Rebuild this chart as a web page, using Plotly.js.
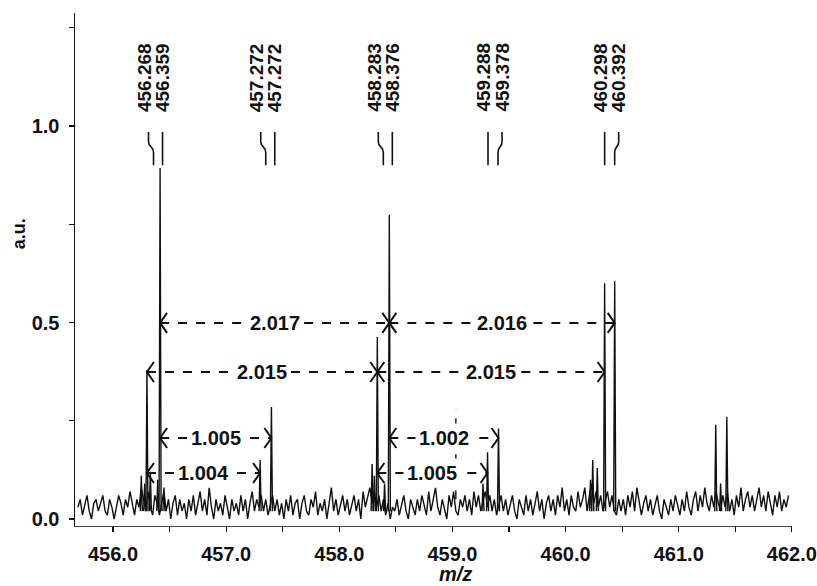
<!DOCTYPE html>
<html><head><meta charset="utf-8">
<script src="https://cdn.plot.ly/plotly-3.0.1.min.js"></script>
<style>html,body{margin:0;padding:0;background:#fff}#chart{width:817px;height:586px}</style>
</head><body><div id="chart"></div>
<script>
// ---- data ----
const noiseStart = 455.69;
const noiseStep = 0.02;
const noise = [
0.03,0.05,0.01,0.04,0.06,0.02,0.00,0.04,0.05,0.02,
0.04,0.06,0.02,0.01,0.05,0.03,0.00,0.03,0.06,0.04,
0.01,0.05,0.03,0.07,0.04,0.01,0.05,0.03,0.08,0.05,
0.02,0.07,0.03,0.01,0.06,0.04,0.01,0.04,0.07,0.02,
0.05,0.00,0.04,0.06,0.01,0.05,0.02,0.04,0.00,0.05,
0.02,0.06,0.01,0.04,0.07,0.02,0.05,0.01,0.08,0.03,
0.00,0.05,0.02,0.04,0.01,0.06,0.03,0.00,0.05,0.02,
0.04,0.01,0.06,0.02,0.05,0.00,0.04,0.07,0.02,0.05,
0.03,0.06,0.02,0.05,0.01,0.04,0.06,0.02,0.05,0.01,
0.04,0.00,0.05,0.02,0.06,0.01,0.04,0.05,0.00,0.04,
0.06,0.02,0.01,0.05,0.03,0.07,0.01,0.04,0.02,0.05,
0.00,0.04,0.08,0.02,0.05,0.01,0.04,0.06,0.02,0.05,
0.01,0.04,0.06,0.02,0.05,0.00,0.07,0.03,0.06,0.08,
0.04,0.07,0.03,0.06,0.02,0.05,0.01,0.04,0.00,0.03,
0.02,0.05,0.01,0.04,0.06,0.02,0.00,0.05,0.03,0.01,
0.05,0.02,0.06,0.03,0.01,0.07,0.02,0.05,0.08,0.03,
0.01,0.05,0.02,0.00,0.06,0.03,0.07,0.02,0.01,0.05,
0.03,0.06,0.02,0.05,0.01,0.07,0.03,0.06,0.02,0.05,
0.07,0.03,0.06,0.02,0.05,0.01,0.04,0.06,0.02,0.05,
0.01,0.04,0.06,0.02,0.00,0.05,0.03,0.01,0.06,0.02,
0.05,0.01,0.04,0.07,0.02,0.05,0.00,0.04,0.06,0.02,
0.05,0.01,0.06,0.03,0.08,0.02,0.05,0.01,0.06,0.03,
0.02,0.07,0.03,0.05,0.08,0.02,0.06,0.09,0.04,0.07,
0.03,0.06,0.02,0.05,0.07,0.03,0.06,0.02,0.01,0.05,
0.02,0.05,0.01,0.06,0.03,0.07,0.02,0.08,0.04,0.01,
0.04,0.06,0.02,0.05,0.01,0.04,0.06,0.02,0.00,0.05,
0.03,0.01,0.05,0.02,0.06,0.03,0.01,0.05,0.02,0.07,
0.03,0.01,0.05,0.07,0.02,0.06,0.03,0.08,0.04,0.02,
0.06,0.03,0.07,0.04,0.02,0.06,0.03,0.07,0.02,0.05,
0.01,0.06,0.03,0.08,0.02,0.05,0.07,0.03,0.06,0.02,
0.05,0.08,0.03,0.06,0.02,0.07,0.04,0.01,0.06,0.03,
0.07,0.02,0.05,0.03,0.06
];
const peakMz =     [456.25,456.28,456.300,456.33,456.395,456.416,456.45,457.30,457.400,458.29,458.31,458.336,458.40,458.442,459.27,459.310,459.407,460.22,460.24,460.28,460.345,460.434,461.327,461.37,461.425];
const peakHeight = [0.11,  0.09,  0.379,  0.12,  0.10,   0.893,  0.08,  0.15,  0.285,  0.14,  0.11,  0.463,  0.09,  0.774,  0.09,  0.170,  0.230,  0.10,  0.15,  0.13,  0.600,  0.605,  0.240,  0.09,  0.260];
const labelPairs = [[456.300,456.416],[457.300,457.400],[458.336,458.442],[459.310,459.407],[460.345,460.434]];
const labelTexts = [["456.268","456.359"],["457.272","457.272"],["458.283","458.376"],["459.288","459.378"],["460.298","460.392"]];
const squiggleSide = ["left","left","left","right","right"];
const spacingFrom  = [456.416,458.442,456.300,458.336,456.416,458.442,456.300,458.336];
const spacingTo    = [458.442,460.434,458.336,460.345,457.400,459.407,457.300,459.310];
const spacingLevel = [0.499,0.499,0.374,0.374,0.206,0.206,0.117,0.117];
const spacingText  = ["2.017","2.016","2.015","2.015","1.005","1.002","1.004","1.005"];

// ---- build traces ----
const noiseX = noise.map((_, i) => +(noiseStart + i * noiseStep).toFixed(3));
const pkX = [], pkY = [];
const base = 0.02, hw = 0.009;
peakMz.forEach((m, i) => { pkX.push(m - hw, m, m + hw, null); pkY.push(base, peakHeight[i], base, null); });

const traces = [
  {x: noiseX, y: noise, type: 'scatter', mode: 'lines', line: {color: '#111', width: 1.4}, hoverinfo: 'skip', showlegend: false},
  {x: pkX, y: pkY, type: 'scatter', mode: 'lines', line: {color: '#111', width: 1.4}, hoverinfo: 'skip', showlegend: false, connectgaps: false}
];

const FAM = 'Liberation Sans, Arial, sans-serif';
const fontB = {family: FAM, size: 20, color: '#111', weight: 'bold'};
const shapes = [], annotations = [];
const pxX = 1 / 113, pxY = 1 / 393;

// peak label markers
labelPairs.forEach((pair, i) => {
  const c = (pair[0] + pair[1]) / 2;
  const yTop = 0.985, yBot = 0.900;
  let straightX, sqTop, sqBot;
  if (squiggleSide[i] === 'left') { straightX = c + 9 * pxX; sqTop = c - 5 * pxX; sqBot = c; }
  else { straightX = c - 5 * pxX; sqTop = c + 9 * pxX; sqBot = c + 5 * pxX; }
  shapes.push({type: 'line', xref: 'x', yref: 'y', x0: straightX, x1: straightX, y0: yTop, y1: yBot, line: {color: '#111', width: 1.6}});
  shapes.push({type: 'path', xref: 'x', yref: 'y',
    path: `M ${sqTop} ${yTop} L ${sqTop} 0.960 C ${sqTop} 0.945 ${sqBot} 0.950 ${sqBot} 0.932 L ${sqBot} ${yBot}`,
    line: {color: '#111', width: 1.6}});
  labelTexts[i].forEach((t, j) => {
    annotations.push({x: c + (j === 0 ? -9 : 9) * pxX, y: 1.033, xref: 'x', yref: 'y', text: t, textangle: -90,
      showarrow: false, xanchor: 'center', yanchor: 'bottom', borderpad: 0,
      font: {family: FAM, size: 19, color: '#111', weight: 'bold'}});
  });
});

// spacing arrows
const ahx = 7 * pxX, ahy = 10 * pxY;
spacingFrom.forEach((a, i) => {
  const b = spacingTo[i], y = spacingLevel[i];
  shapes.push({type: 'line', xref: 'x', yref: 'y', x0: a, x1: b, y0: y, y1: y, line: {color: '#111', width: 2, dash: 'dash'}});
  shapes.push({type: 'path', xref: 'x', yref: 'y', path: `M ${a + ahx} ${y + ahy} L ${a} ${y} L ${a + ahx} ${y - ahy}`, line: {color: '#111', width: 2}});
  shapes.push({type: 'path', xref: 'x', yref: 'y', path: `M ${b - ahx} ${y + ahy} L ${b} ${y} L ${b - ahx} ${y - ahy}`, line: {color: '#111', width: 2}});
  annotations.push({x: (a + b) / 2, y: y, xref: 'x', yref: 'y', text: spacingText[i], showarrow: false,
    xanchor: 'center', yanchor: 'middle', bgcolor: '#fff', borderpad: 3, font: fontB});
});

// faint dashed mark near 459.0
shapes.push({type: 'line', xref: 'x', yref: 'y', x0: 459.03, x1: 459.03, y0: 0.05, y1: 0.28, line: {color: '#222', width: 1.5, dash: 'dash'}, layer: 'below'});

// axis titles
annotations.push({xref: 'paper', yref: 'paper', x: -0.078, y: 0.569, text: 'a.u.', textangle: -90, showarrow: false,
  xanchor: 'center', yanchor: 'middle', font: {family: FAM, size: 18, color: '#111', weight: 'bold'}});
annotations.push({xref: 'paper', yref: 'paper', x: 0.530, y: -0.093, text: 'm/z', showarrow: false,
  xanchor: 'center', yanchor: 'middle', font: {family: FAM, size: 20, color: '#111', weight: 'bold', style: 'italic'}});

const layout = {
  width: 817, height: 586,
  margin: {l: 75, r: 25, t: 13, b: 60},
  paper_bgcolor: '#fff', plot_bgcolor: '#fff',
  font: fontB,
  showlegend: false,
  xaxis: {
    range: [455.664, 462.001], tick0: 456, dtick: 1, tickformat: '.1f',
    ticks: 'outside', ticklen: 5, tickwidth: 1.2, tickcolor: '#111',
    minor: {dtick: 0.5, ticks: 'outside', ticklen: 5, tickwidth: 1.2, tickcolor: '#111', showgrid: false},
    showline: true, linecolor: '#444', linewidth: 1, showgrid: false, zeroline: false,
    tickfont: fontB, ticklabelstandoff: 5, ticklabeloverflow: 'allow'
  },
  yaxis: {
    range: [-0.0178, 1.2875], tick0: 0, dtick: 0.5, tickformat: '.1f',
    ticks: 'outside', ticklen: 5, tickwidth: 1.2, tickcolor: '#111',
    minor: {dtick: 0.25, ticks: 'outside', ticklen: 5, tickwidth: 1.2, tickcolor: '#111', showgrid: false},
    showline: true, linecolor: '#111', linewidth: 1.5, showgrid: false, zeroline: false,
    tickfont: fontB, ticklabelstandoff: 5
  },
  shapes: shapes,
  annotations: annotations
};

Plotly.newPlot('chart', traces, layout, {staticPlot: true, displayModeBar: false});
</script>
</body></html>
